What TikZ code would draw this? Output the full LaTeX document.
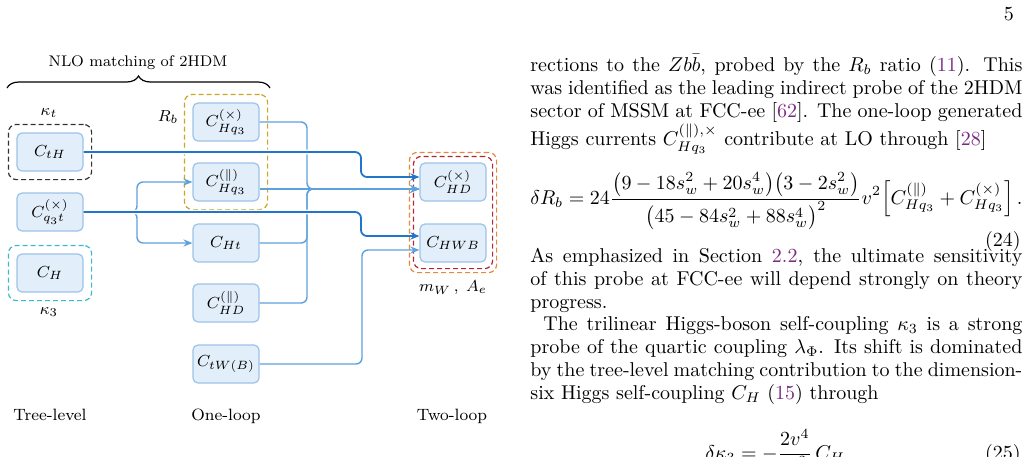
\documentclass[tikz,border=0pt]{standalone}
\usepackage{amsmath}
\usepackage{tikz}
\usetikzlibrary{arrows.meta,decorations.pathreplacing,fit}

\definecolor{boxfill}{HTML}{E2EEF9}
\definecolor{boxline}{HTML}{9CC3E8}
\definecolor{liteblue}{HTML}{5DA2DE}
\definecolor{darkblue}{HTML}{2175CB}
\definecolor{grpyellow}{HTML}{C9A623}
\definecolor{grpcyan}{HTML}{3ABBC9}
\definecolor{grpred}{HTML}{B5253A}
\definecolor{grporange}{HTML}{E38B3B}
\definecolor{grpblack}{HTML}{333333}
\definecolor{linkpurple}{HTML}{7A2A80}

\newcommand\diagfont{\fontsize{8.2}{9.8}\selectfont}
\newcommand\pagefont{\fontsize{10}{11.6}\selectfont}
\newcommand\lnk[1]{\textcolor{linkpurple}{#1}}

\tikzset{
  coef/.style={draw=boxline, fill=boxfill, rounded corners=2.5pt, line width=0.6pt,
    minimum width=33pt, minimum height=19pt, inner sep=0pt},
  grp/.style={dash pattern=on 2.5pt off 1.5pt, line width=0.6pt, rounded corners=4pt},
  lite/.style={draw=liteblue, line width=0.7pt, rounded corners=3pt,
    -{Stealth[length=4.5pt,width=3.6pt,inset=1.5pt]}},
  dark/.style={draw=darkblue, line width=0.9pt, rounded corners=3pt,
    -{Stealth[length=4.5pt,width=3.6pt,inset=1.5pt]},
    preaction={draw=white, line width=2.4pt, -, shorten >=6pt}},
  para/.style={text width=246pt, align=justify, inner sep=0pt, anchor=base west,
    execute at begin node={\setlength\baselineskip{11.6pt}}}
}

\begin{document}
\begin{tikzpicture}[x=0.5pt, y=-0.5pt]
\useasboundingbox (0,0) rectangle (1028,456);
\clip (0,0) rectangle (1028,456);

\begin{scope}[font=\diagfont]
  % heading and brace
  \node[font=\fontsize{7.7}{9}\selectfont] (nlo) at (138,63) {NLO matching of 2HDM};
  \draw[line width=0.6pt, decorate, decoration={brace, amplitude=6pt}] (7,88) -- (270,88);

  % tree-level
  \node[coef] (cth) at (50,152) {$C_{tH}$};
  \node[coef] (cqt) at (50,212) {$C_{q_3t}^{(\times)}$};
  \node[coef] (ch) at (50,273) {$C_H$};

  % one-loop
  \node[coef] (hqx) at (226,122) {$C_{Hq_3}^{(\times)}$};
  \node[coef] (hqp) at (226,182) {$C_{Hq_3}^{(\parallel)}$};
  \node[coef] (cht) at (226,243) {$C_{Ht}$};
  \node[coef] (hdp) at (226,303) {$C_{HD}^{(\parallel)}$};
  \node[coef] (ctw) at (226,364) {$C_{tW(B)}$};

  % two-loop
  \node[coef] (hdx) at (453,182) {$C_{HD}^{(\times)}$};
  \node[coef] (hwb) at (453,243) {$C_{HWB}$};

  % observables
  \node[grp, draw=grpblack, fit=(cth), inner sep=4pt] (kt) {};
  \node[grp, draw=grpcyan, fit=(ch), inner sep=4pt] (k3) {};
  \node[grp, draw=grpyellow, fit=(hqx)(hqp), inner sep=4pt] (rb) {};
  \node[grp, draw=grporange, fit=(hdx)(hwb), inner sep=5pt] (mw) {};
  \node[grp, draw=grpred, fit=(hdx)(hwb), inner sep=3pt] (ae) {};

  \node (ktlab) at (49,113) {$\kappa_t$};
  \node (k3lab) at (49,312) {$\kappa_3$};
  \node (rblab) at (168,117) {$R_b$};
  \node (mwlab) at (453,288) {$m_W\,,\; A_e$};

  \node[anchor=base] (tree) at (50,420) {Tree-level};
  \node[anchor=base] (one) at (226,420) {One-loop};
  \node[anchor=base] (two) at (452,420) {Two-loop};

  % connectors
  \coordinate (split) at (137,212);
  \coordinate (ja) at (307,189);
  \coordinate (jb) at (362,250);
  \coordinate (jc) at (361,177);
  \coordinate (jd) at (361,236);

  \draw[lite] (cqt.east) -- (split) |- (hqp.west);
  \draw[lite] (cqt.east) -- (split) |- (cht.west);
  \draw[lite] (hqx.east) -| (ja) -- (ja -| hdx.west);
  \draw[lite] (cht.east) -| (ja) -- (ja -| hdx.west);
  \draw[lite] (hdp.east) -| (ja) -- (ja -| hdx.west);
  \draw[lite] (hqp.east |- ja) -- (ja -| hdx.west);
  \draw[lite] (ctw.east) -| (jb) -- (jb -| hwb.west);

  \draw[dark] (cth.east) -| (jc) -- (jc -| hdx.west);
  \draw[dark] (cqt.east) -| (jd) -- (jd -| hwb.west);
\end{scope}

\begin{scope}[font=\pagefont]
  \node[anchor=base east] (pg) at (1021,20) {5};

  \node[para] (p1) at (530,71) {rections to the $Zb\bar{b}$, probed by the $R_b$ ratio (\lnk{11}). This\linebreak
    was identified as the leading indirect probe of the 2HDM\linebreak
    sector of MSSM at FCC-ee [\lnk{62}]. The one-loop generated\linebreak
    Higgs currents $C_{Hq_3}^{(\parallel),\times}$ contribute at LO through [\lnk{28}]};

  \node[anchor=base west, inner sep=0pt] (eq24) at (530,204)
    {$\displaystyle \delta R_b = 24\frac{\big(9-18s_w^2+20s_w^4\big)\big(3-2s_w^2\big)}{\big(45-84s_w^2+88s_w^4\big)^2}v^2\Big[C_{Hq_3}^{(\parallel)}+C_{Hq_3}^{(\times)}\Big]\,.$};
  \node[anchor=base east, inner sep=0pt] (n24) at (1021,246) {(24)};

  \node[para] (p2) at (530,262) {As emphasized in Section \lnk{2.2}, the ultimate sensitivity\linebreak
    of this probe at FCC-ee will depend strongly on theory\linebreak
    progress.};

  \node[para] (p3) at (530,330) {\hspace*{6.5pt}The trilinear Higgs-boson self-coupling $\kappa_3$ is a strong\linebreak
    probe of the quartic coupling $\lambda_\Phi$. Its shift is dominated\linebreak
    by the tree-level matching contribution to the dimension-\linebreak
    six Higgs self-coupling $C_H$ (\lnk{15}) through};

  \node[anchor=base west, inner sep=0pt] (eq25) at (705,459)
    {$\displaystyle \delta\kappa_3 = -\frac{2v^4}{m_h^2}\,C_H\,.$};
  \node[anchor=base east, inner sep=0pt] (n25) at (1021,459) {(25)};
\end{scope}
\end{tikzpicture}
\end{document}
